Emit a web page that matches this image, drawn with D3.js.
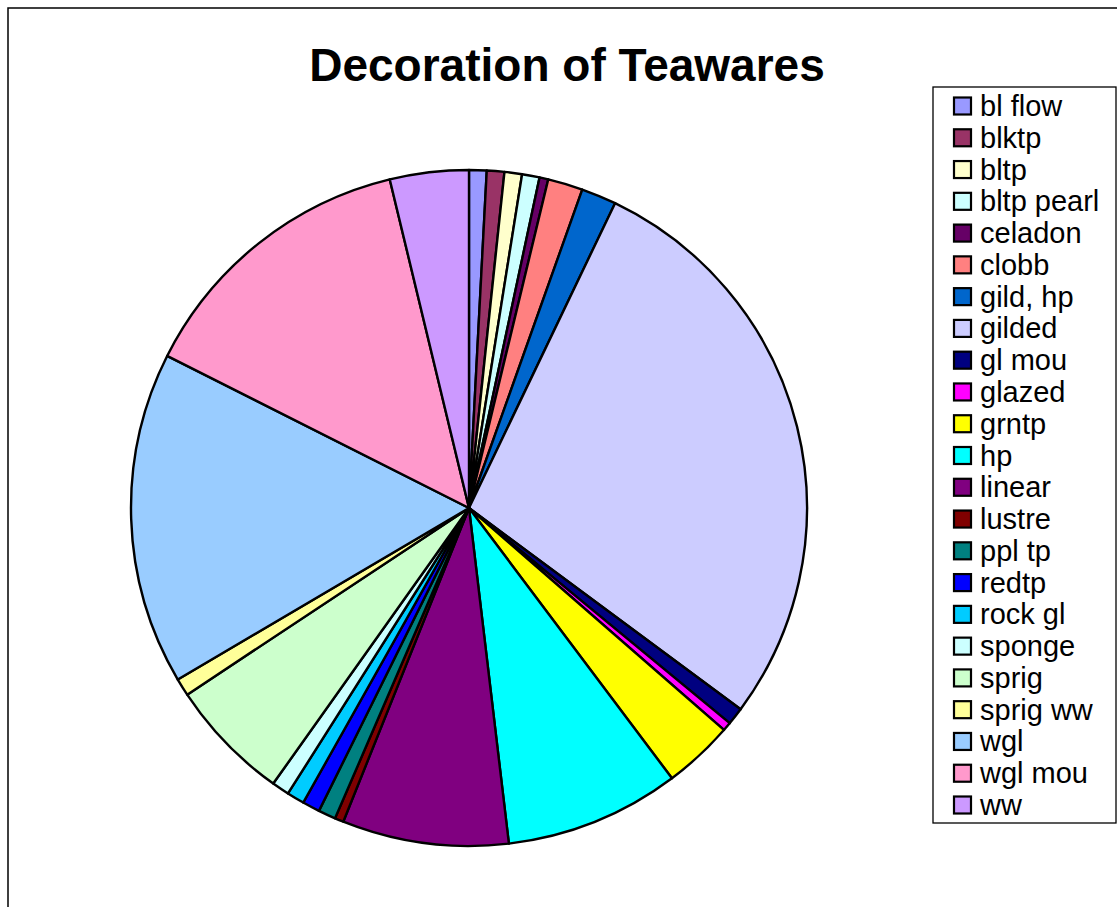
<!DOCTYPE html>
<html>
<head>
<meta charset="utf-8">
<script src="https://cdn.jsdelivr.net/npm/d3@7"></script>
<style>
  body { margin: 0; background: #fff; }
  svg { display: block; font-family: "Liberation Sans", Arial, sans-serif; }
</style>
</head>
<body>
<div id="chart"></div>
<script>
// decoration types and item counts
var decorations = ["bl flow", "blktp", "bltp", "bltp pearl", "celadon", "clobb", "gild, hp", "gilded",
  "gl mou", "glazed", "grntp", "hp", "linear", "lustre", "ppl tp", "redtp", "rock gl", "sponge",
  "sprig", "sprig ww", "wgl", "wgl mou", "ww"];
var counts = [2, 2, 2, 2, 1, 4, 4, 67, 2, 1, 8, 20, 19, 1, 2, 2, 2, 2, 14, 2, 38, 33, 9];

// excel default series colours
var palette = ["#9999FF", "#993366", "#FFFFCC", "#CCFFFF", "#660066", "#FF8080", "#0066CC", "#CCCCFF",
  "#000080", "#FF00FF", "#FFFF00", "#00FFFF", "#800080", "#800000", "#008080", "#0000FF",
  "#00CCFF", "#CCFFFF", "#CCFFCC", "#FFFF99", "#99CCFF", "#FF99CC", "#CC99FF"];

var data = decorations.map(function(d, i) { return { name: d, value: counts[i] }; });

var svg = d3.select("#chart").append("svg").attr("width", 1117).attr("height", 907);

// chart frame (runs off the right and bottom)
svg.append("rect")
  .attr("x", 8).attr("y", 8).attr("width", 1130).attr("height", 930)
  .attr("fill", "#fff").attr("stroke", "#000").attr("stroke-width", 1.5);

svg.append("text")
  .attr("x", 567).attr("y", 81)
  .attr("text-anchor", "middle")
  .style("font-size", "46px").style("font-weight", "bold")
  .text("Decoration of Teawares");

var color = d3.scaleOrdinal().domain(decorations).range(palette);

var pie = d3.pie().sort(null).value(function(d) { return d.value; });
var arc = d3.arc().innerRadius(0).outerRadius(338);

svg.append("g")
  .attr("transform", "translate(469,508)")
  .selectAll("path")
  .data(pie(data))
  .enter()
  .append("path")
    .attr("d", arc)
    .attr("fill", function(d) { return color(d.data.name); })
    .attr("stroke", "#000")
    .attr("stroke-width", 2.4)
    .attr("stroke-linejoin", "round");

// legend
svg.append("rect")
  .attr("x", 933).attr("y", 87).attr("width", 183).attr("height", 736)
  .attr("fill", "#fff").attr("stroke", "#000").attr("stroke-width", 1.3);

var ly = d3.scalePoint().domain(decorations).range([106, 805]);

var item = svg.append("g").selectAll("g")
  .data(data)
  .enter()
  .append("g")
  .attr("transform", function(d) { return "translate(0," + ly(d.name) + ")"; });

item.append("rect")
  .attr("x", 954).attr("y", -8.5).attr("width", 17).attr("height", 17)
  .attr("fill", function(d) { return color(d.name); })
  .attr("stroke", "#000").attr("stroke-width", 2.2);

item.append("text")
  .attr("x", 980).attr("y", 10)
  .style("font-size", "29px")
  .text(function(d) { return d.name; });
</script>
</body>
</html>
